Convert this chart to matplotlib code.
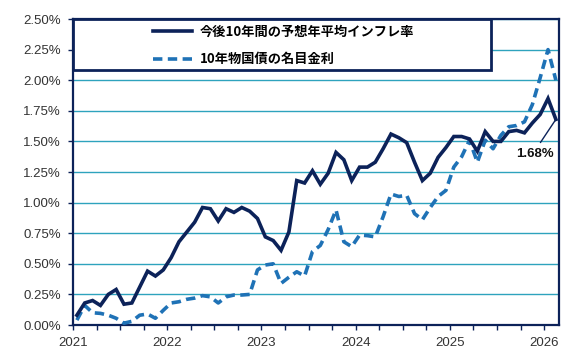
import matplotlib
matplotlib.use("Agg")
import matplotlib.pyplot as plt
from matplotlib.patches import Rectangle
from matplotlib.ticker import FixedLocator, FuncFormatter

plt.rcParams["font.family"] = ["Liberation Sans", "Noto Sans CJK JP", "DejaVu Sans"]

# monthly data, Jan 2021 - Feb 2026 (%)
start_year = 2021
infl = [0.08, 0.18, 0.20, 0.16, 0.25, 0.29, 0.17, 0.18, 0.31, 0.44, 0.40, 0.45,
        0.55, 0.68, 0.76, 0.84, 0.96, 0.95, 0.85, 0.95, 0.92, 0.96, 0.93, 0.87,
        0.72, 0.69, 0.61, 0.76, 1.18, 1.16, 1.26, 1.15, 1.24, 1.41, 1.35, 1.18,
        1.29, 1.29, 1.33, 1.44, 1.56, 1.53, 1.49, 1.33, 1.18, 1.24, 1.37, 1.45,
        1.54, 1.54, 1.52, 1.42, 1.58, 1.50, 1.50, 1.58, 1.59, 1.57, 1.65, 1.72,
        1.85, 1.68]
jgb10 = [0.04, 0.16, 0.10, 0.095, 0.08, 0.055, 0.015, 0.03, 0.08, 0.09, 0.055, 0.12,
         0.18, 0.19, 0.21, 0.22, 0.24, 0.23, 0.18, 0.23, 0.245, 0.245, 0.25, 0.45,
         0.49, 0.50, 0.34, 0.39, 0.435, 0.40, 0.60, 0.65, 0.78, 0.94, 0.68, 0.64,
         0.735, 0.73, 0.72, 0.885, 1.07, 1.05, 1.06, 0.91, 0.86, 0.96, 1.05, 1.10,
         1.29, 1.375, 1.51, 1.33, 1.51, 1.44, 1.55, 1.62, 1.63, 1.66, 1.80, 2.02,
         2.25, 2.00]
labels = ["今後10年間の予想年平均インフレ率", "10年物国債の名目金利"]
years = [2021, 2022, 2023, 2024, 2025, 2026]

x = [start_year + (i + 0.5) / 12 for i in range(len(infl))]

navy = "#0c2259"
blue = "#1f72b6"
grid_c = "#2ea3bd"
tick_c = "#333333"

fig = plt.figure(figsize=(5.7, 3.52), dpi=100)
ax = fig.add_axes([0.128, 0.0767, 0.853, 0.8693])

ax.set_xlim(2021, 2026.16)
ax.set_ylim(0, 2.5)

ax.plot(x, infl, color=navy, lw=2.6, solid_joinstyle="miter", zorder=4)
ax.plot(x, jgb10, color=blue, lw=2.6, dashes=(2.6, 1.5), zorder=3)

# grid
ax.set_yticks([i * 0.25 for i in range(11)])
ax.yaxis.set_major_formatter(FuncFormatter(lambda v, p: f"{v:.2f}%"))
ax.grid(axis="y", color=grid_c, lw=1.0)
ax.set_axisbelow(True)

ax.set_xticks(years)
ax.xaxis.set_minor_locator(FixedLocator([y + q / 4 for y in range(2021, 2027) for q in range(1, 4)]))
ax.tick_params(axis="both", which="both", direction="out", length=3.5, width=1.0,
               color=navy, labelcolor=tick_c, labelsize=9.5)
ax.tick_params(axis="y", pad=5)
ax.tick_params(axis="x", pad=5)

for s in ax.spines.values():
    s.set_color(navy)
    s.set_linewidth(1.6)

# legend box
ax.add_patch(Rectangle((0, 0.833), 0.86, 0.167, transform=ax.transAxes,
                       facecolor="white", edgecolor=navy, lw=2.0, zorder=5, clip_on=False))
leg = ax.legend(labels, loc="center left", bbox_to_anchor=(0.164, 0.914),
                frameon=False, borderpad=0, borderaxespad=0, handlelength=3.0,
                handletextpad=0.6, labelspacing=1.05,
                prop={"family": ["Noto Sans CJK JP"], "weight": "bold", "size": 9.5})
leg.set_zorder(6)

# last value label
ax.annotate(f"{infl[-1]:.2f}%", xy=(x[-1], infl[-1]), xytext=(2025.905, 1.40),
            ha="center", va="center", fontsize=9.5, fontweight="bold", color="#111111",
            arrowprops=dict(arrowstyle="-", color=navy, lw=1.0, relpos=(0.55, 1.0),
                            shrinkA=2, shrinkB=0))

fig.savefig("out.png", dpi=100)
